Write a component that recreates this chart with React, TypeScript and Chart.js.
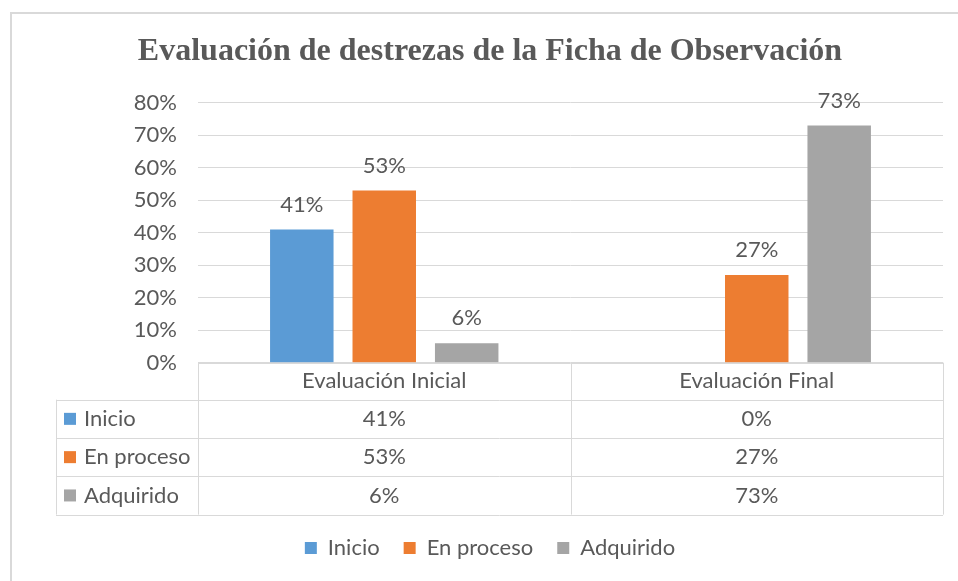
import React, { useEffect, useRef } from "react";
import { Chart, registerables } from "chart.js";

Chart.register(...registerables);

const titleText = "Evaluación de destrezas de la Ficha de Observación";
const categories = ["Evaluación Inicial", "Evaluación Final"];
const seriesNames = ["Inicio", "En proceso", "Adquirido"];
const inicio = [41, 0];
const enProceso = [53, 27];
const adquirido = [6, 73];
const seriesColors = ["#5B9BD5", "#ED7D31", "#A5A5A5"];
const yMax = 80;
const yStep = 10;

const TEXT = "#595959";
const LINE = "#d9d9d9";
const SANS = "Lato, 'Open Sans', sans-serif";
const FS = 22;

const framePlugin = {
  id: "frame",
  beforeDraw(chart: any) {
    const ctx = chart.ctx;
    ctx.save();
    ctx.fillStyle = "#ffffff";
    ctx.fillRect(0, 0, chart.width, chart.height);
    ctx.strokeStyle = LINE;
    ctx.lineWidth = 2;
    ctx.beginPath();
    ctx.moveTo(11, chart.height);
    ctx.lineTo(11, 13);
    ctx.lineTo(chart.width, 13);
    ctx.stroke();
    ctx.restore();
  },
};

const labelsPlugin = {
  id: "barLabels",
  afterDatasetsDraw(chart: any) {
    const ctx = chart.ctx;
    ctx.save();
    ctx.font = `${FS}px ${SANS}`;
    ctx.fillStyle = TEXT;
    ctx.textAlign = "center";
    ctx.textBaseline = "middle";
    chart.data.datasets.forEach((ds: any, di: number) => {
      const meta = chart.getDatasetMeta(di);
      meta.data.forEach((el: any, i: number) => {
        const v = ds.data[i];
        if (!v) return;
        ctx.fillText(v + "%", el.x, el.y - 25);
      });
    });
    ctx.restore();
  },
};

const tablePlugin = {
  id: "dataTable",
  afterDraw(chart: any) {
    const ctx = chart.ctx;
    const { left, right, bottom } = chart.chartArea;
    const xs = chart.scales.x;
    const n = categories.length;
    const colW = (right - left) / n;
    const headerH = 37;
    const rowH = 38.3;
    const tableLeft = 56;
    const rows = [inicio, enProceso, adquirido];
    const tableBottom = bottom + headerH + rowH * rows.length;
    const px = (v: number) => Math.round(v) + 0.5;

    ctx.save();
    ctx.strokeStyle = LINE;
    ctx.lineWidth = 1;
    ctx.beginPath();
    ctx.moveTo(left, px(bottom));
    ctx.lineTo(right, px(bottom));
    for (let r = 0; r <= rows.length; r++) {
      const y = px(bottom + headerH + r * rowH);
      ctx.moveTo(tableLeft, y);
      ctx.lineTo(right, y);
    }
    for (let c = 0; c <= n; c++) {
      const x = px(left + c * colW);
      ctx.moveTo(x, bottom);
      ctx.lineTo(x, tableBottom);
    }
    ctx.moveTo(px(tableLeft), bottom + headerH);
    ctx.lineTo(px(tableLeft), tableBottom);
    ctx.stroke();

    ctx.font = `${FS}px ${SANS}`;
    ctx.fillStyle = TEXT;
    ctx.textBaseline = "middle";
    ctx.textAlign = "center";
    categories.forEach((cat, i) => {
      ctx.fillText(cat, xs.getPixelForValue(i), bottom + headerH / 2);
    });
    rows.forEach((vals, r) => {
      const cy = bottom + headerH + r * rowH + rowH / 2;
      ctx.fillStyle = seriesColors[r];
      ctx.fillRect(tableLeft + 8, cy - 6, 12, 12);
      ctx.fillStyle = TEXT;
      ctx.textAlign = "left";
      ctx.fillText(seriesNames[r], tableLeft + 28, cy);
      ctx.textAlign = "center";
      vals.forEach((v, i) => {
        ctx.fillText(v + "%", xs.getPixelForValue(i), cy);
      });
    });
    ctx.restore();
  },
};

export default function App() {
  const ref = useRef<HTMLCanvasElement | null>(null);
  useEffect(() => {
    if (!ref.current) return;
    const chart = new Chart(ref.current, {
      type: "bar",
      data: {
        labels: categories,
        datasets: [inicio, enProceso, adquirido].map((d, i) => ({
          label: seriesNames[i],
          data: d,
          backgroundColor: seriesColors[i],
          borderWidth: 0,
          categoryPercentage: 0.664,
          barPercentage: 0.77,
        })),
      },
      options: {
        responsive: false,
        animation: false,
        layout: { padding: { left: 37, right: 15, top: 12, bottom: 12 } },
        plugins: {
          title: {
            display: true,
            text: titleText,
            color: TEXT,
            font: { family: "'Liberation Serif', 'Times New Roman', serif", size: 32, weight: "bold", lineHeight: 1.2 },
            padding: { top: 20.8, bottom: 31.5 },
          },
          legend: {
            position: "bottom",
            labels: {
              boxWidth: 12,
              boxHeight: 12,
              padding: 24,
              color: TEXT,
              font: { family: SANS, size: FS },
            },
          },
          tooltip: { enabled: false },
        },
        scales: {
          x: {
            grid: { display: false },
            border: { display: false },
            ticks: { display: false },
            afterFit: (s: any) => {
              s.height = 150.3;
            },
          },
          y: {
            min: 0,
            max: yMax,
            ticks: {
              stepSize: yStep,
              callback: (v: any) => v + "%",
              color: TEXT,
              font: { family: SANS, size: FS },
              padding: 21,
            },
            grid: { color: LINE, drawTicks: false },
            border: { display: false },
            afterFit: (s: any) => {
              s.width = 161;
            },
          },
        },
      },
      plugins: [framePlugin, labelsPlugin, tablePlugin],
    } as any);
    return () => chart.destroy();
  }, []);
  return (
    <div style={{ position: "fixed", left: 0, top: 0, width: 958, height: 581 }}>
      <canvas ref={ref} width={958} height={581} style={{ display: "block" }} />
    </div>
  );
}
